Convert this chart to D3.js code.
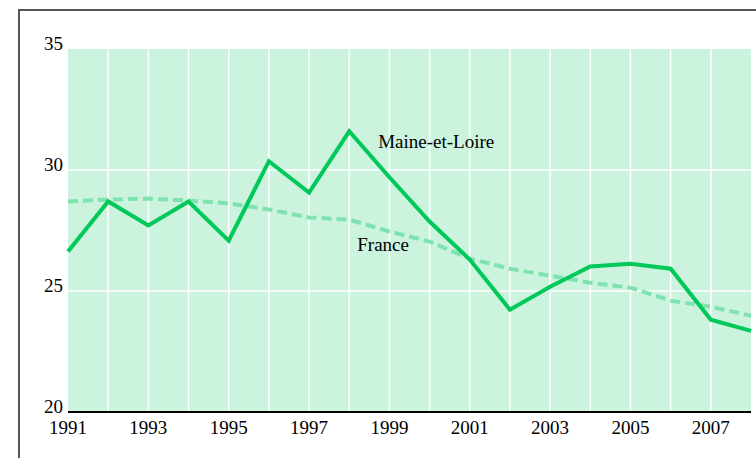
<!DOCTYPE html>
<html>
<head>
<meta charset="utf-8">
<script src="https://cdn.jsdelivr.net/npm/d3@7"></script>
<style>
  body { margin: 0; background: #fff; }
  text { font-family: "Liberation Serif", "Times New Roman", serif; fill: #000; }
</style>
</head>
<body>
<script>
var width = 756;
var height = 458;

// data
var years = d3.range(1991, 2009);
var maineEtLoire = [26.63, 28.70, 27.71, 28.70, 27.08, 30.36, 29.07, 31.60, 29.70, 27.87,
                    26.30, 24.23, 25.18, 26.01, 26.13, 25.92, 23.81, 23.35];
var france = [28.70, 28.78, 28.82, 28.74, 28.62, 28.37, 28.04, 27.95, 27.46, 27.04,
              26.34, 25.92, 25.63, 25.34, 25.14, 24.60, 24.35, 23.98];
var yTicks = [20, 25, 30, 35];
var xTicks = [1991, 1993, 1995, 1997, 1999, 2001, 2003, 2005, 2007];

var svg = d3.select("body")
        .append("svg")
        .attr("width", width)
        .attr("height", height);

// frame
svg.append("rect")
        .attr("x", 19)
        .attr("y", 10)
        .attr("width", 800)
        .attr("height", 500)
        .attr("fill", "none")
        .attr("stroke", "#555")
        .attr("stroke-width", 2);

var margin = {top: 49, left: 68},
    plotW = 751 - margin.left,
    plotH = 412 - margin.top;

var x = d3.scaleLinear().domain([1991, 2008]).range([0, plotW]),
    y = d3.scaleLinear().domain([20, 35]).range([plotH, 0]);

var g = svg.append("g")
        .attr("transform", "translate(" + margin.left + "," + margin.top + ")");

g.append("rect")
        .attr("width", plotW)
        .attr("height", plotH)
        .attr("fill", "#cbf3de");

// grid
g.selectAll(".vgrid")
        .data(years.slice(1, -1))
        .enter().append("line")
        .attr("x1", function(d){return x(d);})
        .attr("x2", function(d){return x(d);})
        .attr("y1", 0)
        .attr("y2", plotH)
        .attr("stroke", "#fff")
        .attr("stroke-width", 1.5);

g.selectAll(".hgrid")
        .data([25, 30])
        .enter().append("line")
        .attr("x1", 0)
        .attr("x2", plotW)
        .attr("y1", function(d){return y(d);})
        .attr("y2", function(d){return y(d);})
        .attr("stroke", "#fff")
        .attr("stroke-width", 1.5);

// x axis line
g.append("line")
        .attr("x1", 0)
        .attr("x2", plotW)
        .attr("y1", plotH)
        .attr("y2", plotH)
        .attr("stroke", "#000")
        .attr("stroke-width", 2);

var line = d3.line()
        .x(function(d){return x(d[0]);})
        .y(function(d){return y(d[1]);});

g.append("path")
        .datum(d3.zip(years, france))
        .attr("d", line)
        .attr("fill", "none")
        .attr("stroke", "#7fe3af")
        .attr("stroke-width", 4)
        .attr("stroke-dasharray", "10,5");

g.append("path")
        .datum(d3.zip(years, maineEtLoire))
        .attr("d", line)
        .attr("fill", "none")
        .attr("stroke", "#00c95a")
        .attr("stroke-width", 4)
        .attr("stroke-linejoin", "miter");

// tick labels
g.selectAll(".ylab")
        .data(yTicks)
        .enter().append("text")
        .attr("x", -5)
        .attr("y", function(d){return y(d) + 1;})
        .attr("text-anchor", "end")
        .style("font-size", "19px")
        .text(function(d){return d;});

g.selectAll(".xlab")
        .data(xTicks)
        .enter().append("text")
        .attr("x", function(d){return x(d);})
        .attr("y", plotH + 22)
        .attr("text-anchor", "middle")
        .style("font-size", "19px")
        .text(function(d){return d;});

// series labels
g.append("text")
        .attr("x", x(1998.72))
        .attr("y", y(30.9))
        .style("font-size", "19px")
        .text("Maine-et-Loire");

g.append("text")
        .attr("x", x(1998.2))
        .attr("y", y(26.65))
        .style("font-size", "19px")
        .text("France");
</script>
</body>
</html>
